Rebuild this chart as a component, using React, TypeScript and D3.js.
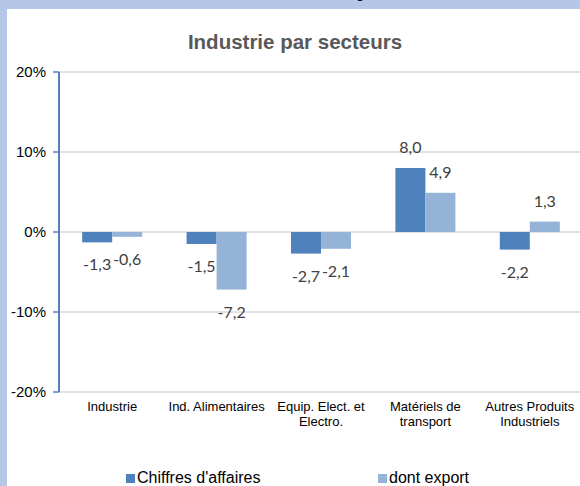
import React from "react";
import * as d3 from "d3";

const categories = [
  ["Industrie"],
  ["Ind. Alimentaires"],
  ["Equip. Elect. et", "Electro."],
  ["Matériels de", "transport"],
  ["Autres Produits", "Industriels"],
];
const seriesNames = ["Chiffres d'affaires", "dont export"];
const chiffres = [-1.3, -1.5, -2.7, 8.0, -2.2];
const exportVals = [-0.6, -7.2, -2.1, 4.9, 1.3];
const yTicks = [-20, -10, 0, 10, 20];
const colors = ["#4f81bd", "#95b3d7"];

const W = 580;
const H = 486;
const plot = { left: 60, right: 582, top: 72, bottom: 392 };

const App = () => {
  const keys = categories.map((c) => c.join(" "));
  const x = d3
    .scaleBand()
    .domain(keys)
    .range([plot.left, plot.right])
    .paddingInner(0.425)
    .paddingOuter(0.2125);
  const xs = d3
    .scaleBand()
    .domain(seriesNames)
    .range([0, x.bandwidth()])
    .padding(0);
  const y = d3.scaleLinear().domain([-20, 20]).range([plot.bottom, plot.top]);

  const series = [chiffres, exportVals];
  const fmt = (v) => v.toFixed(1).replace(".", ",");

  return (
    <div style={{ position: "fixed", left: 0, top: 0 }}>
      <svg width={W} height={H} style={{ display: "block" }}>
        <rect x={0} y={0} width={W} height={H} fill="#b4c7e7" />
        <text x={356} y={-2} fontFamily="Liberation Sans, Arial" fontSize={15} fill="#000">g</text>
        <rect x={7} y={9} width={W - 7} height={H - 9} fill="#fff" />

        <text
          x={295}
          y={49}
          textAnchor="middle"
          fontFamily="Liberation Sans, Arial"
          fontWeight="bold"
          fontSize={20.5}
          fill="#595959"
        >
          Industrie par secteurs
        </text>

        {yTicks.map((t) => (
          <g key={t}>
            <line x1={plot.left - 1} x2={W} y1={y(t)} y2={y(t)} stroke="#d9d9d9" strokeWidth={1.5} />
            <line x1={53} x2={59} y1={y(t)} y2={y(t)} stroke="#4f81bd" strokeWidth={1.5} />
            <text
              x={46}
              y={y(t) + 5}
              textAnchor="end"
              fontFamily="Liberation Sans, Arial"
              fontSize={15}
              fill="#000"
            >
              {t + "%"}
            </text>
          </g>
        ))}
        <line x1={59} x2={59} y1={plot.top} y2={plot.bottom} stroke="#4f81bd" strokeWidth={2} />

        {series.map((vals, si) =>
          vals.map((v, i) => {
            const bx = x(keys[i]) + xs(seriesNames[si]);
            const y0 = y(0);
            const y1 = y(v);
            return (
              <g key={si + "-" + i}>
                <rect
                  x={bx}
                  y={Math.min(y0, y1)}
                  width={xs.bandwidth()}
                  height={Math.abs(y1 - y0)}
                  fill={colors[si]}
                />
                <text
                  x={bx + xs.bandwidth() / 2}
                  y={v < 0 ? y1 + 28 : y1 - 15}
                  textAnchor="middle"
                  fontFamily="Lato, Carlito, sans-serif"
                  fontSize={16}
                  fill="#404040"
                >
                  {fmt(v)}
                </text>
              </g>
            );
          })
        )}

        {categories.map((lines, i) => (
          <text
            key={i}
            x={x(keys[i]) + x.bandwidth() / 2}
            y={411}
            textAnchor="middle"
            fontFamily="Liberation Sans, Arial"
            fontSize={13}
            fill="#000"
          >
            {lines.map((l, j) => (
              <tspan key={j} x={x(keys[i]) + x.bandwidth() / 2} dy={j === 0 ? 0 : 15}>
                {l}
              </tspan>
            ))}
          </text>
        ))}

        {seriesNames.map((name, si) => {
          const lx = si === 0 ? 126 : 378;
          return (
            <g key={name}>
              <rect x={lx} y={474} width={9} height={9} fill={colors[si]} />
              <text x={lx + 11} y={483} fontFamily="Liberation Sans, Arial" fontSize={16} fill="#000">
                {name}
              </text>
            </g>
          );
        })}
      </svg>
    </div>
  );
};

export default App;
